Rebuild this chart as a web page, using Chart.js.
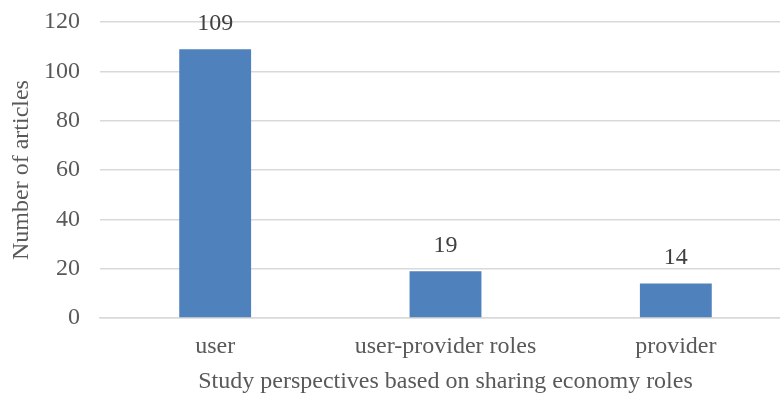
<!doctype html>
<html lang="en">
<head>
<meta charset="utf-8">
<title>Sharing economy roles</title>
<script src="https://cdn.jsdelivr.net/npm/chart.js@4"></script>
<style>
  html, body { margin: 0; padding: 0; background: #fff; overflow: hidden; }
  #wrap { width: 791px; height: 394px; }
</style>
</head>
<body>
<div id="wrap"><canvas id="chart"></canvas></div>
<script>
var categories = ["user", "user-provider roles", "provider"];
var articles = [109, 19, 14];
var yTicks = [0, 20, 40, 60, 80, 100, 120];

var serif = "'Liberation Serif', 'Times New Roman', serif";

// draw value labels above each bar
var valueLabels = {
  id: "valueLabels",
  afterDatasetsDraw: function (chart) {
    var ctx = chart.ctx;
    var meta = chart.getDatasetMeta(0);
    ctx.save();
    ctx.font = "24px " + serif;
    ctx.fillStyle = "#404040";
    ctx.textAlign = "center";
    ctx.textBaseline = "alphabetic";
    meta.data.forEach(function (bar, i) {
      ctx.fillText(articles[i], bar.x, bar.y - 19);
    });
    ctx.restore();
  }
};

new Chart(document.getElementById("chart"), {
  type: "bar",
  data: {
    labels: categories,
    datasets: [{
      data: articles,
      backgroundColor: "#4f81bd",
      barPercentage: 0.312,
      categoryPercentage: 1
    }]
  },
  options: {
    responsive: true,
    maintainAspectRatio: false,
    animation: false,
    layout: { padding: { top: 22, left: 10, right: 0, bottom: 0 } },
    plugins: { legend: { display: false }, tooltip: { enabled: false } },
    scales: {
      x: {
        afterFit: function (axis) { axis.height = 76; },
        grid: { display: false, drawTicks: false },
        border: { color: "#d9d9d9", width: 1.5 },
        ticks: { color: "#595959", font: { family: serif, size: 24, lineHeight: 1 }, padding: 17 },
        title: {
          display: true,
          text: "Study perspectives based on sharing economy roles",
          color: "#595959",
          font: { family: serif, size: 24, lineHeight: 1 },
          padding: { top: 11, bottom: 0 }
        }
      },
      y: {
        min: 0,
        max: 120,
        afterFit: function (axis) {
          axis.width = 90;
          axis.paddingTop = 0;
          axis.paddingBottom = 0;
        },
        afterBuildTicks: function (axis) {
          axis.ticks = yTicks.map(function (v) { return { value: v }; });
        },
        grid: { color: "#d9d9d9", lineWidth: 1.5, drawTicks: false },
        border: { display: false },
        ticks: { color: "#595959", font: { family: serif, size: 24, lineHeight: 1 }, padding: 20 },
        title: {
          display: true,
          text: "Number of articles",
          color: "#595959",
          font: { family: serif, size: 24, lineHeight: 1 },
          padding: { top: 0, bottom: 10 }
        }
      }
    }
  },
  plugins: [valueLabels]
});
</script>
</body>
</html>
